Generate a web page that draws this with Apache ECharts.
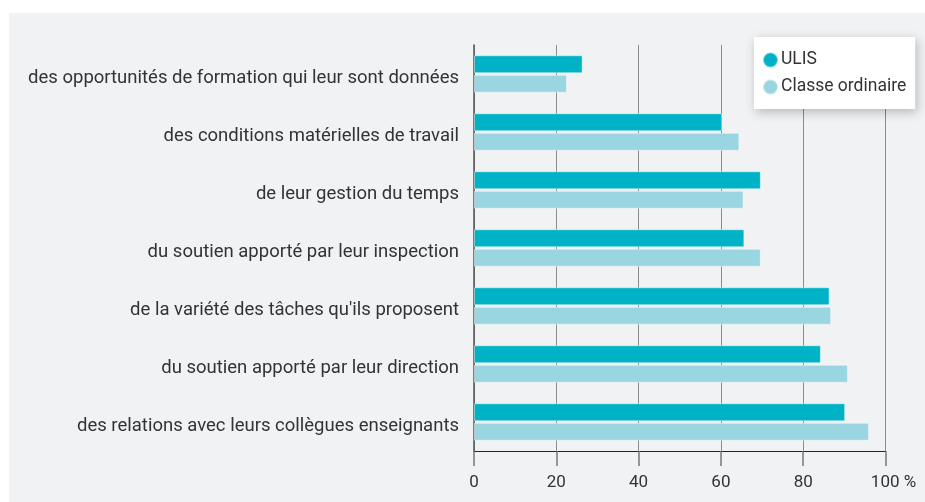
<!DOCTYPE html>
<html>
<head>
<meta charset="utf-8">
<script src="https://cdn.jsdelivr.net/npm/echarts@6/dist/echarts.min.js"></script>
<style>
html,body{margin:0;padding:0;background:#ffffff;}
#bg{position:absolute;left:9px;top:13px;width:916px;height:489px;background:#f1f2f4;}
#chart{position:absolute;left:0;top:0;width:925px;height:502px;}
</style>
</head>
<body>
<div id="bg"></div>
<div id="chart"></div>
<script>
const categories = [
  "des opportunités de formation qui leur sont données",
  "des conditions matérielles de travail",
  "de leur gestion du temps",
  "du soutien apporté par leur inspection",
  "de la variété des tâches qu'ils proposent",
  "du soutien apporté par leur direction",
  "des relations avec leurs collègues enseignants"
];
const seriesNames = ["ULIS", "Classe ordinaire"];
const ulisValues = [26.4, 60.3, 69.7, 65.7, 86.4, 84.3, 90.2];
const classeValues = [22.6, 64.5, 65.5, 69.7, 86.8, 90.9, 96.0];
const xTicks = [0, 20, 40, 60, 80, 100];

const chart = echarts.init(document.getElementById('chart'), null, {renderer: 'canvas'});
const font = 'Roboto, "Noto Sans", sans-serif';
chart.setOption({
  backgroundColor: 'transparent',
  animation: false,
  textStyle: {fontFamily: font},
  grid: {left: 474, right: 39.5, top: 45, bottom: 51, containLabel: false},
  legend: {
    orient: 'vertical',
    left: 754, top: 37,
    backgroundColor: '#ffffff',
    padding: [14, 9, 13, 8],
    itemGap: 9,
    itemWidth: 15, itemHeight: 15,
    icon: 'circle',
    shadowBlur: 10, shadowColor: 'rgba(0,0,0,0.25)', shadowOffsetX: 2, shadowOffsetY: 3,
    textStyle: {fontSize: 17.5, color: '#333', fontFamily: font, padding: [0,0,0,-2]},
    data: seriesNames
  },
  xAxis: {
    type: 'value', min: 0, max: 100, interval: 20,
    axisLine: {show: true, lineStyle: {color: '#222', width: 1}},
    axisTick: {show: true, length: 15, lineStyle: {color: '#777', width: 1.5}},
    splitLine: {show: true, lineStyle: {color: '#8c8c8c', width: 1}},
    axisLabel: {
      fontSize: 17, color: '#333', margin: 23, fontFamily: font,
      formatter: v => (v === xTicks[xTicks.length - 1] ? '{p| }' + v + ' %' : String(v)),
      rich: {p: {width: 16}}
    }
  },
  yAxis: {
    type: 'category', inverse: true, data: categories,
    axisLine: {show: true, lineStyle: {color: '#555', width: 1.5}},
    axisTick: {show: false},
    axisLabel: {
      margin: 15,
      formatter: v => '{a|' + v + '}',
      rich: {a: {fontSize: 18.5, color: '#333', fontFamily: font, lineHeight: 28, verticalAlign: 'bottom'}}
    }
  },
  series: [
    {
      name: seriesNames[0], type: 'bar', data: ulisValues,
      barWidth: 18, barGap: '8%',
      itemStyle: {color: '#00b2c5', borderColor: 'rgba(255,255,255,0.45)', borderWidth: 1}
    },
    {
      name: seriesNames[1], type: 'bar', data: classeValues,
      barWidth: 18,
      itemStyle: {color: '#9ad6e1', borderColor: 'rgba(255,255,255,0.45)', borderWidth: 1}
    }
  ]
});
</script>
</body>
</html>
